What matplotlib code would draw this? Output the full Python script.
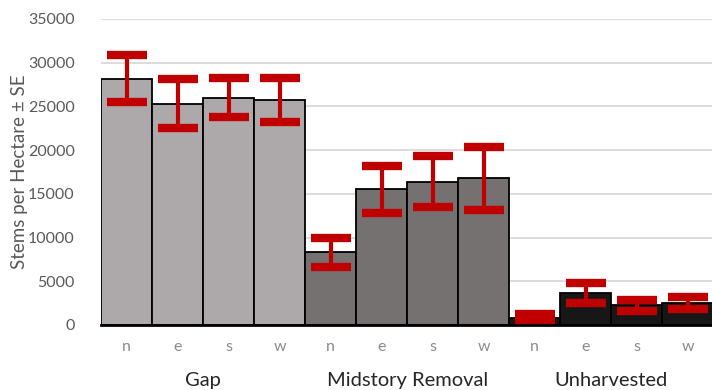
import matplotlib
matplotlib.use("Agg")
import matplotlib.pyplot as plt
import numpy as np

groups = ["Gap", "Midstory Removal", "Unharvested"]
aspects = ["n", "e", "s", "w"]
values = [28150, 25300, 26000, 25750,
          8300, 15500, 16400, 16800,
          800, 3700, 2250, 2500]
errors = [2700, 2800, 2250, 2550,
          1700, 2700, 2900, 3600,
          500, 1150, 620, 680]
group_colors = ["#ADA9AA", "#767171", "#171717"]

plt.rcParams['font.family'] = ['Lato', 'DejaVu Sans']

fig = plt.figure(figsize=(7.12, 3.9), dpi=100)
ax = fig.add_axes([101/712, 65/390, 1 - 101/712 + 0.002, (325-19)/390])

x = np.arange(len(values))
colors = [group_colors[i // 4] for i in range(len(values))]
ax.bar(x, values, width=1.0, color=colors, edgecolor="black", linewidth=1.3, zorder=2)
ax.errorbar(x, values, yerr=errors, fmt="none", ecolor="#C00000",
            elinewidth=3, capsize=14.5, capthick=6, zorder=3)

ax.set_xlim(-0.5, 11.5)
ax.set_ylim(0, 35000)
ax.set_yticks(np.arange(0, 35001, 5000))
ax.yaxis.grid(True, color="#D9D9D9", linewidth=1.3, zorder=0)
ax.set_axisbelow(True)
for s in ["top", "right", "left"]:
    ax.spines[s].set_visible(False)
ax.spines["bottom"].set_linewidth(2)
ax.spines["bottom"].set_color("black")
ax.spines["bottom"].set_zorder(4)

ax.set_xticks(x)
ax.set_xticklabels(aspects * 3, color="#8C8C8C", fontsize=11.5)
ax.tick_params(axis="x", length=0, pad=11)
ax.tick_params(axis="y", length=0, pad=19, labelsize=11.5, labelcolor="#595959")
ax.set_ylabel("Stems per Hectare ± SE", fontsize=13.5, color="#595959", labelpad=0)

for gi, g in enumerate(groups):
    ax.text(gi * 4 + 1.5, -6300, g, ha="center", va="center", fontsize=14.5, color="#262626",
            transform=ax.transData, clip_on=False)

fig.savefig("out.png", dpi=100)
